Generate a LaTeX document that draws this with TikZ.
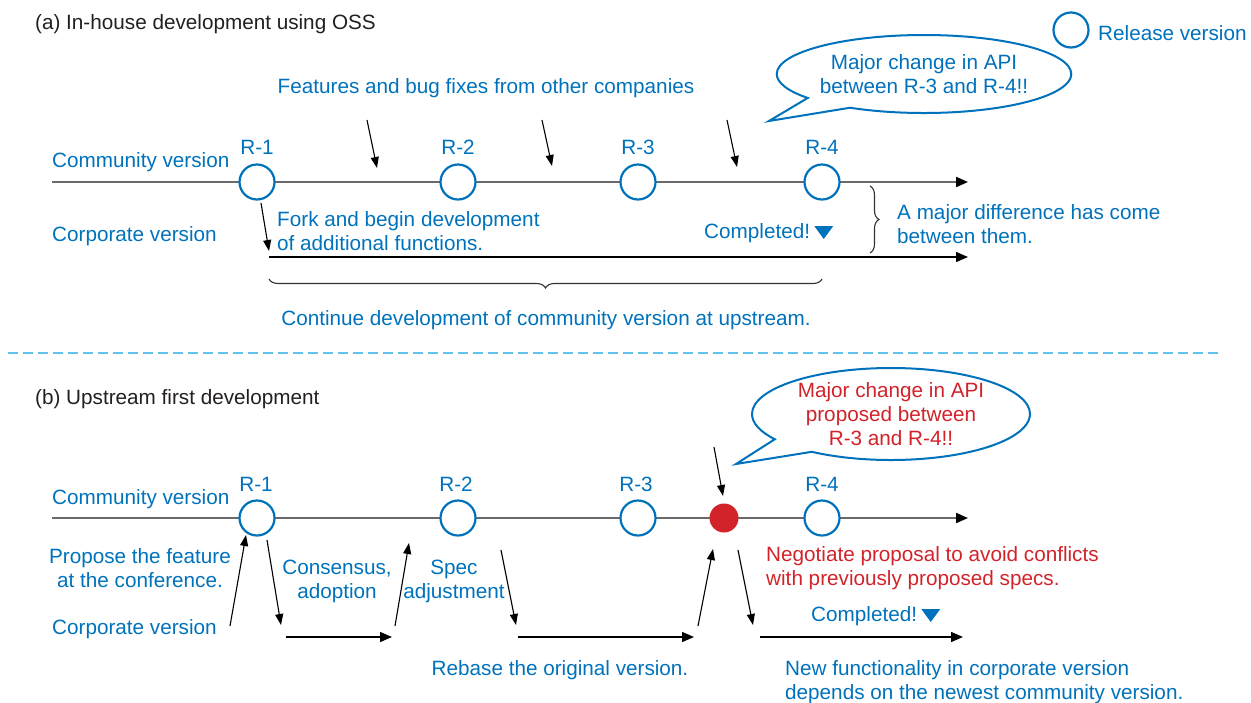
\documentclass[tikz,border=0pt]{standalone}
\usepackage{fontspec}
\setmainfont{Liberation Sans}
\usetikzlibrary{arrows.meta,shapes.callouts,decorations.pathreplacing,calc}
\definecolor{cblue}{RGB}{0,114,188}
\definecolor{cred}{RGB}{210,35,42}
\definecolor{cgray}{RGB}{105,105,105}
\definecolor{dashblue}{RGB}{95,195,235}
\definecolor{ctitle}{RGB}{35,31,32}
\begin{document}
\begin{tikzpicture}[x=1pt,y=-1pt,
 every node/.style={inner sep=0pt, font=\fontsize{20.7}{24}\selectfont},
 lbl/.style={text=cblue, align=left, yshift=-2pt},
 lblc/.style={text=cblue, align=center, yshift=-2pt},
 redt/.style={text=cred, align=left, yshift=-2pt},
 titlet/.style={text=ctitle, yshift=-2pt},
 rel/.style={circle, draw=cblue, line width=2.2pt, minimum size=35pt, fill=white},
 comline/.style={draw=cgray, line width=2pt, -{Triangle[length=12pt,width=10pt,color=black,fill=black]}},
 corline/.style={draw=black, line width=1.4pt, -{Triangle[length=12pt,width=10pt]}},
 smallarrow/.style={draw=black, line width=1.1pt, -{Triangle[length=11pt,width=8pt]}},
 bubble/.style={ellipse callout, draw=cblue, line width=2pt, fill=white, align=center, callout pointer arc=22},
 bracestyle/.style={draw=black!80, line width=1.1pt, decorate, decoration={brace, amplitude=9pt}},
]
\useasboundingbox (0,0) rectangle (1251,702);

% ---------------- (a) ----------------
\node[titlet, anchor=west] (ta) at (35,22) {(a) In-house development using OSS};
\node[rel] (lg) at (1071,30) {};
\node[lbl, anchor=west] (lgt) at (1098,31) {Release version};

\coordinate (pa) at (769,121);
\node[bubble, text=cblue, minimum width=292pt, minimum height=78pt, callout absolute pointer={(pa)}] (bua) at (924,74) {Major change in API\\between R-3 and R-4!!};

\node[lbl] (feat) at (486,86) {Features and bug fixes from other companies};

\node[lbl, anchor=west] (acom) at (52,160) {Community version};
\node[lbl, anchor=west] (acor) at (52,234) {Corporate version};

\coordinate (ca0) at (52,182);
\coordinate (ca1) at (968,182);
\draw[comline] (ca0) -- (ca1);
\node[rel] (a1) at (257,182) {};
\node[rel] (a2) at (458,182) {};
\node[rel] (a3) at (638,182) {};
\node[rel] (a4) at (822,182) {};
\node[lbl] (ra1) at (257,145) {R-1};
\node[lbl] (ra2) at (458,145) {R-2};
\node[lbl] (ra3) at (638,145) {R-3};
\node[lbl] (ra4) at (822,145) {R-4};

\coordinate (fa1s) at (367,120); \coordinate (fa1e) at (377,168);
\coordinate (fa2s) at (542,120); \coordinate (fa2e) at (552,166);
\coordinate (fa3s) at (727,120); \coordinate (fa3e) at (737,167);
\draw[smallarrow] (fa1s) -- (fa1e);
\draw[smallarrow] (fa2s) -- (fa2e);
\draw[smallarrow] (fa3s) -- (fa3e);

\coordinate (forks) at (261,203); \coordinate (forke) at (269,251);
\draw[smallarrow] (forks) -- (forke);
\node[lbl, anchor=west] (fork) at (277,229) {Fork and begin development\\of additional functions.};

\coordinate (cb0) at (269,257);
\coordinate (cb1) at (968,257);
\draw[corline] (cb0) -- (cb1);

\node[lbl, anchor=west] (acomp) at (704,231) {Completed!};
\fill[cblue] ($(acomp.east)+(4,-7)$) -- ($(acomp.east)+(23,-7)$) -- ($(acomp.east)+(13.5,6)$) -- cycle;

\coordinate (br1) at (870,186); \coordinate (br2) at (870,253);
\draw[bracestyle] (br1) -- (br2);
\node[lbl, anchor=west] (diff) at (897,222) {A major difference has come\\between them.};

\coordinate (bb1) at (822,279); \coordinate (bb2) at (269,279);
\draw[bracestyle] (bb1) -- (bb2);
\node[lbl] (cont) at (546,318) {Continue development of community version at upstream.};

\coordinate (d0) at (8,353); \coordinate (d1) at (1218,353);
\draw[dashblue, line width=1.5pt, dash pattern=on 10pt off 5pt] (d0) -- (d1);

% ---------------- (b) ----------------
\node[titlet, anchor=west] (tb) at (35,397) {(b) Upstream first development};

\coordinate (pb) at (736,464);
\node[bubble, text=cred, minimum width=278pt, minimum height=92pt, callout absolute pointer={(pb)}] (bub) at (891,414) {Major change in API\\proposed between\\R-3 and R-4!!};

\node[lbl, anchor=west] (bcom) at (52,497) {Community version};
\coordinate (cc0) at (52,518);
\coordinate (cc1) at (968,518);
\draw[comline] (cc0) -- (cc1);
\node[rel] (b1) at (257,518) {};
\node[rel] (b2) at (458,518) {};
\node[rel] (b3) at (638,518) {};
\node[rel] (b4) at (822,518) {};
\node[circle, fill=cred, minimum size=29pt] (rd) at (724,518) {};
\node[lbl] (rb1) at (256,482) {R-1};
\node[lbl] (rb2) at (456,482) {R-2};
\node[lbl] (rb3) at (636,482) {R-3};
\node[lbl] (rb4) at (822,482) {R-4};

\coordinate (ts) at (714,447); \coordinate (te) at (723,496);
\draw[smallarrow] (ts) -- (te);

\node[lblc] (prop) at (140,566) {Propose the feature\\at the conference.};
\node[lbl, anchor=west] (bcor) at (52,627) {Corporate version};
\node[lblc] (cons) at (337,579) {Consensus,\\adoption};
\node[lblc] (spec) at (454,579) {Spec\\adjustment};
\node[lbl] (reb) at (560,668) {Rebase the original version.};
\node[redt, anchor=west] (neg) at (766,566) {Negotiate proposal to avoid conflicts\\with previously proposed specs.};
\node[lbl, anchor=west] (bcomp) at (811,614) {Completed!};
\fill[cblue] ($(bcomp.east)+(4,-7)$) -- ($(bcomp.east)+(23,-7)$) -- ($(bcomp.east)+(13.5,6)$) -- cycle;
\node[lbl, anchor=west] (newf) at (785,680) {New functionality in corporate version\\depends on the newest community version.};

\coordinate (p1s) at (230,626); \coordinate (p1e) at (246,535);
\coordinate (p2s) at (267,540); \coordinate (p2e) at (281,625);
\coordinate (s1s) at (286,637); \coordinate (s1e) at (392,637);
\coordinate (p3s) at (395,626); \coordinate (p3e) at (409,543);
\coordinate (p4s) at (501,550); \coordinate (p4e) at (516,625);
\coordinate (s2s) at (518,637); \coordinate (s2e) at (694,637);
\coordinate (p5s) at (698,626); \coordinate (p5e) at (713,549);
\coordinate (p6s) at (738,550); \coordinate (p6e) at (753,625);
\coordinate (s3s) at (760,637); \coordinate (s3e) at (963,637);
\draw[smallarrow] (p1s) -- (p1e);
\draw[smallarrow] (p2s) -- (p2e);
\draw[corline] (s1s) -- (s1e);
\draw[smallarrow] (p3s) -- (p3e);
\draw[smallarrow] (p4s) -- (p4e);
\draw[corline] (s2s) -- (s2e);
\draw[smallarrow] (p5s) -- (p5e);
\draw[smallarrow] (p6s) -- (p6e);
\draw[corline] (s3s) -- (s3e);
\end{tikzpicture}
\end{document}
